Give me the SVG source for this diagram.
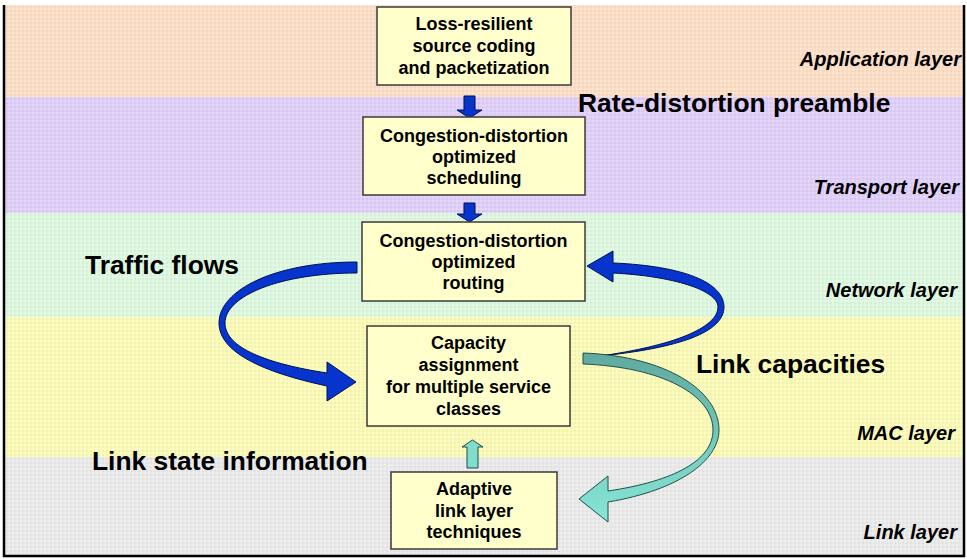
<svg xmlns="http://www.w3.org/2000/svg" width="967" height="559" viewBox="0 0 967 559">
<defs>
<linearGradient id="teal" gradientUnits="userSpaceOnUse" x1="0" y1="353" x2="0" y2="520">
<stop offset="0" stop-color="#60A99F"/>
<stop offset="1" stop-color="#86E6D6"/>
</linearGradient>
<pattern id="dots" width="4" height="4" patternUnits="userSpaceOnUse">
<rect x="0" y="0" width="2" height="2" fill="#ffffff" fill-opacity="0.18"/>
<rect x="2" y="2" width="2" height="2" fill="#000000" fill-opacity="0.03"/>
</pattern>
</defs>
<style>
.box{fill:#FFFFCC;stroke:#3a3a3a;stroke-width:1.5}
.bt{font-family:"Liberation Sans",Arial,sans-serif;font-weight:bold;font-size:18px;fill:#000;text-anchor:middle}
.big{font-family:"Liberation Sans",Arial,sans-serif;font-weight:bold;font-size:26.4px;fill:#000}
.layer{font-family:"Liberation Sans",Arial,sans-serif;font-weight:bold;font-style:italic;font-size:20px;fill:#000;text-anchor:end}
.blue{fill:#0634CC;stroke:#00124F;stroke-width:1}
.tl{fill:url(#teal);stroke:#1F4F48;stroke-width:1}
</style>
<rect x="0" y="0" width="967" height="559" fill="#ffffff"/>
<g id="bands">
<rect x="5" y="5" width="958" height="92" fill="#FBDEC6"/>
<rect x="5" y="97" width="958" height="116" fill="#DFCEF7"/>
<rect x="5" y="213" width="958" height="104" fill="#DDF7DF"/>
<rect x="5" y="317" width="958" height="140" fill="#FAFAB6"/>
<rect x="5" y="457" width="958" height="99" fill="#E9E9E9"/>
<rect x="5" y="5" width="958" height="551" fill="url(#dots)"/>
</g>
<g id="layer-labels">
<text class="layer" x="961" y="66">Application layer</text>
<text class="layer" x="959" y="194">Transport layer</text>
<text class="layer" x="957" y="297">Network layer</text>
<text class="layer" x="955" y="440">MAC layer</text>
<text class="layer" x="957" y="539">Link layer</text>
</g>
<g id="labels">
<text class="big" x="578" y="112">Rate-distortion preamble</text>
<text class="big" x="85" y="274">Traffic flows</text>
<text class="big" x="696" y="373">Link capacities</text>
<text class="big" x="92" y="470">Link state information</text>
</g>
<g id="connectors">
<path class="blue" d="M464 96 L475 96 L475 110 L482 110 L469.5 118 L457 110 L464 110 Z"/>
<path class="blue" d="M464 203 L475 203 L475 214 L482 214 L469.5 222 L457 214 L464 214 Z"/>
<path class="blue" d="M357 262 C275 262 219 290 219 323 C219 352 262 372 327 386 L327 401 L356 382 L327 362 L327 373 C268 364 225 348 225 323 C225 296 280 273 357 273 Z"/>
<path class="blue" d="M600 356 C680 348 724 332 724 307 C724 283 685 266 613 263 L613 251 L587 266 L613 282 L613 273 C672 276 718 290 718 307 C718 328 672 346 600 356 Z"/>
<path class="tl" d="M583 353 C665 356 719 390 719 430 C719 460 680 490 608 502 L608 522 L579 499 L608 476 L608 491 C675 481 713 460 713 430 C713 395 662 367 583 364 Z"/>
<path d="M467 468 L478 468 L478 447 L483 447 L472.5 440 L462 447 L467 447 Z" fill="#80DCCB" stroke="#1F4F48" stroke-width="1"/>
</g>
<g id="node-source">
<rect class="box" x="377" y="7" width="194" height="78"/>
<text class="bt" x="474" y="30">Loss-resilient</text>
<text class="bt" x="474" y="52">source coding</text>
<text class="bt" x="474" y="74">and packetization</text>
</g>
<g id="node-scheduling">
<rect class="box" x="363" y="117" width="222" height="78"/>
<text class="bt" x="474" y="142">Congestion-distortion</text>
<text class="bt" x="474" y="163">optimized</text>
<text class="bt" x="474" y="184">scheduling</text>
</g>
<g id="node-routing">
<rect class="box" x="362" y="222" width="223" height="79"/>
<text class="bt" x="473.5" y="247">Congestion-distortion</text>
<text class="bt" x="473.5" y="268">optimized</text>
<text class="bt" x="473.5" y="289">routing</text>
</g>
<g id="node-capacity">
<rect class="box" x="367" y="326" width="203" height="100"/>
<text class="bt" x="468.5" y="349">Capacity</text>
<text class="bt" x="468.5" y="371">assignment</text>
<text class="bt" x="468.5" y="393">for multiple service</text>
<text class="bt" x="468.5" y="415">classes</text>
</g>
<g id="node-adaptive">
<rect class="box" x="391" y="472" width="166" height="77"/>
<text class="bt" x="474" y="495">Adaptive</text>
<text class="bt" x="474" y="517">link layer</text>
<text class="bt" x="474" y="538">techniques</text>
</g>
<g id="frame">
<line x1="4" y1="5" x2="4" y2="557" stroke="#000" stroke-width="2.5"/>
<line x1="964" y1="5" x2="964" y2="557" stroke="#000" stroke-width="2.5"/>
<line x1="3" y1="556" x2="965" y2="556" stroke="#000" stroke-width="2.5"/>
</g>
</svg>
